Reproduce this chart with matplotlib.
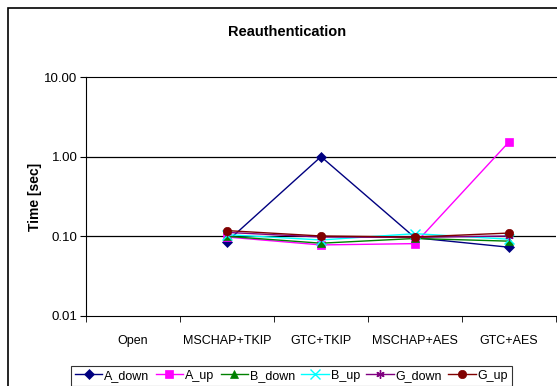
import matplotlib
matplotlib.use("Agg")
import matplotlib.pyplot as plt
from matplotlib.patches import Rectangle
from matplotlib.ticker import FixedLocator, NullLocator

plt.rcParams['font.family'] = ['Liberation Sans', 'DejaVu Sans']

# categories and series (times in seconds)
categories = ["Open", "MSCHAP+TKIP", "GTC+TKIP", "MSCHAP+AES", "GTC+AES"]
series_names = ["A_down", "A_up", "B_down", "B_up", "G_down", "G_up"]
A_down = [None, 0.086, 1.00, 0.096, 0.073]
A_up = [None, 0.098, 0.078, 0.081, 1.53]
B_down = [None, 0.100, 0.082, 0.094, 0.087]
B_up = [None, 0.105, 0.090, 0.108, 0.092]
G_down = [None, 0.112, 0.098, 0.097, 0.101]
G_up = [None, 0.118, 0.101, 0.098, 0.110]
yticks = [0.01, 0.1, 1, 10]
yticklabels = ["0.01", "0.10", "1.00", "10.00"]

colors = ["#000080", "#FF00FF", "#008000", "#00FFFF", "#800080", "#800000"]
markers = ["D", "s", "^", "x", (6, 2, 0), "o"]
sizes = [5, 6, 6, 7, 6, 6]

fig = plt.figure(figsize=(5.57, 3.86), dpi=100)
ax = fig.add_axes([86 / 557, 1 - 316 / 386, 470 / 557, 239 / 386])

xs = list(range(len(categories)))
all_series = [A_down, A_up, B_down, B_up, G_down, G_up]
for name, vals, c, m, s in zip(series_names, all_series, colors, markers, sizes):
    px = [x for x, v in zip(xs, vals) if v is not None]
    py = [v for v in vals if v is not None]
    thin = m in ("x", (6, 2, 0))
    ax.plot(px, py, color=c, marker=m, markersize=s, lw=1, label=name,
            markeredgewidth=1 if thin else 0.5)

ax.set_yscale("log")
ax.set_ylim(0.01, 10)
ax.set_xlim(-0.5, len(categories) - 0.5)
ax.yaxis.set_major_locator(FixedLocator(yticks))
ax.yaxis.set_minor_locator(NullLocator())
ax.set_yticks(yticks)
ax.set_yticklabels(yticklabels, fontsize=9.5)
for y in [0.1, 1]:
    ax.axhline(y, color="black", lw=0.9, zorder=0)
ax.set_xticks(xs)
ax.set_xticklabels(categories, fontsize=9)
ax.set_xticks([x - 0.5 for x in xs] + [len(xs) - 0.5], minor=True)
ax.tick_params(axis="x", which="major", length=0, pad=14)
ax.tick_params(axis="x", which="minor", length=4, direction="out")
ax.tick_params(axis="y", length=4, direction="out", pad=2)
ax.spines["right"].set_visible(False)
ax.spines["top"].set_color("black")
ax.set_ylabel("Time [sec]", fontsize=10, fontweight="bold")
ax.yaxis.set_label_coords(-0.094, 0.5)
fig.text(287 / 557, 1 - 32 / 386, "Reauthentication", fontsize=10.5,
         fontweight="bold", ha="center", va="center")

leg = fig.legend(loc="upper left", bbox_to_anchor=(71 / 557, 1 - 366 / 386),
                 ncol=6, fontsize=9, frameon=True, fancybox=False,
                 handlelength=2.2, columnspacing=0.5, handletextpad=0.15,
                 borderpad=0.3, borderaxespad=0)
leg.get_frame().set_edgecolor("black")
leg.get_frame().set_linewidth(0.8)

# outer chart border (cut off on right and bottom)
fig.patches.append(Rectangle((8 / 557, -0.2), 2, 1.2 - 8 / 386, fill=False,
                             edgecolor="black", lw=1.2,
                             transform=fig.transFigure, figure=fig))

fig.savefig("out.png", dpi=100)
